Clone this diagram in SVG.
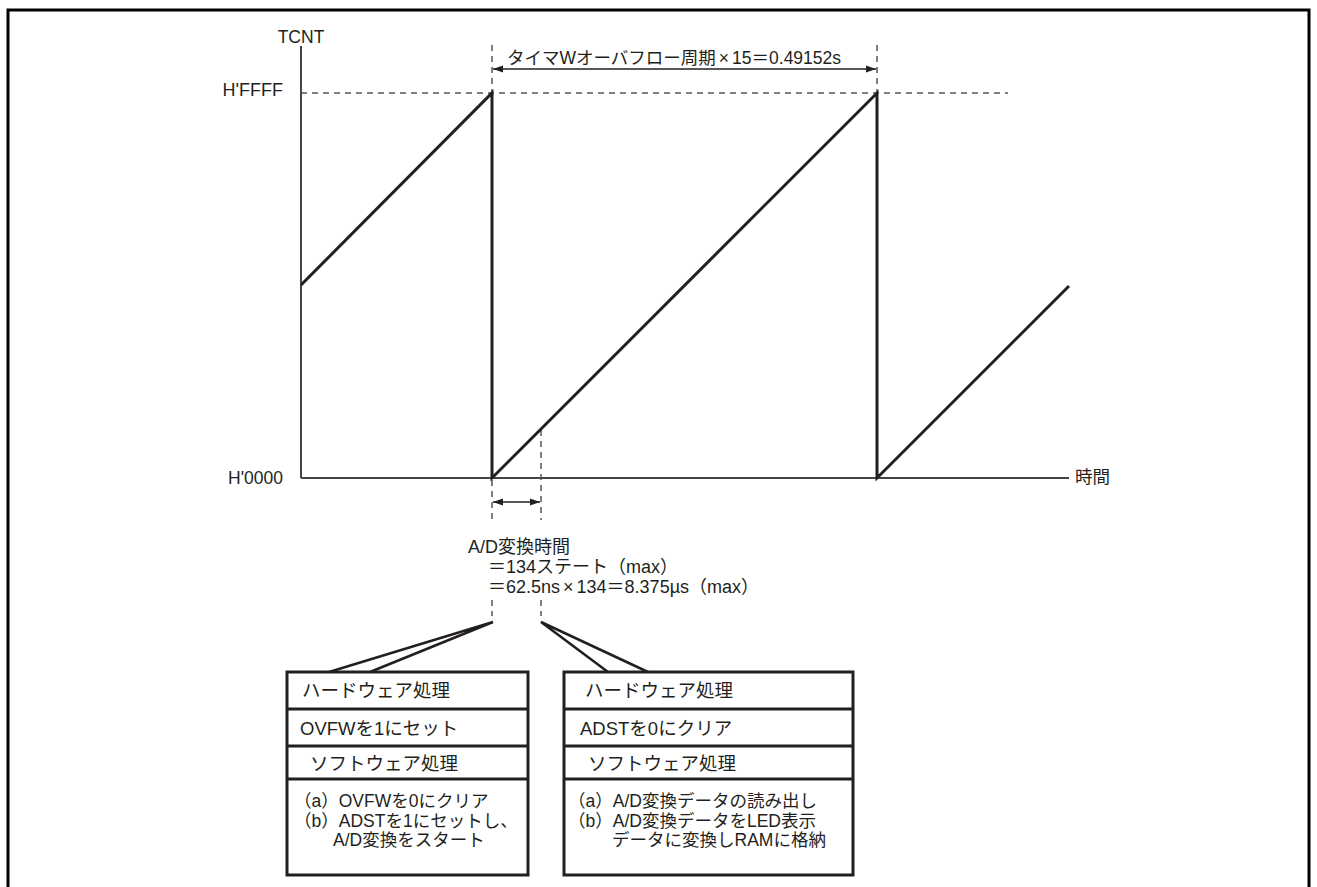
<svg xmlns="http://www.w3.org/2000/svg" width="1317" height="887" viewBox="0 0 1317 887">
<defs>
<style>
text{font-family:"Liberation Sans","Noto Sans CJK JP",sans-serif;font-size:17.5px;fill:#231f20}
.big{font-size:18.5px}
.mid{font-size:18px}
.axis{stroke:#444;stroke-width:2;fill:none}
.saw{stroke:#231f20;stroke-width:3;fill:none;stroke-linejoin:miter}
.dash{stroke:#555;stroke-width:1.5;stroke-dasharray:6 5;fill:none}
.dim{stroke:#231f20;stroke-width:1.5;fill:none}
.box{stroke:#231f20;stroke-width:3;fill:#fff}
.sep{stroke:#231f20;stroke-width:3}
.call{stroke:#231f20;stroke-width:2.5;fill:none;stroke-linejoin:miter}
</style>
<marker id="ah" viewBox="0 0 10 10" refX="10" refY="5" markerWidth="10" markerHeight="10" markerUnits="userSpaceOnUse" orient="auto-start-reverse">
<path d="M0,1.5 L10,5 L0,8.5 Z" fill="#231f20"/>
</marker>
</defs>
<rect width="1317" height="887" fill="#fff"/>
<path d="M8,890 V10 H1309 V890" fill="none" stroke="#000" stroke-width="3"/>

<g id="axes">
<line class="axis" x1="301" y1="46" x2="301" y2="478"/>
<line class="axis" x1="301" y1="478" x2="1069" y2="478"/>
<text x="301" y="43" text-anchor="middle">TCNT</text>
<text class="mid" x="283" y="96" text-anchor="end">H'FFFF</text>
<text x="283" y="484" text-anchor="end">H'0000</text>
<text x="1075" y="483">時間</text>
</g>

<g id="connectors">
<line class="dash" x1="301" y1="93" x2="1008" y2="93"/>
<line class="dash" x1="492" y1="45" x2="492" y2="93"/>
<line class="dash" x1="877" y1="45" x2="877" y2="93"/>
<line class="dim" x1="493" y1="69" x2="876" y2="69" marker-start="url(#ah)" marker-end="url(#ah)"/>
<line class="dash" x1="492" y1="480" x2="492" y2="520"/>
<line class="dash" x1="541" y1="430" x2="541" y2="520"/>
<line class="dim" x1="493" y1="502" x2="540" y2="502" marker-start="url(#ah)" marker-end="url(#ah)"/>
<line class="dash" x1="492" y1="600" x2="492" y2="616"/>
<line class="dash" x1="541" y1="600" x2="541" y2="616"/>
<path class="call" d="M329,672 L493,622 L370,672"/>
<path class="call" d="M608,672 L541,622 L648,672"/>
</g>

<g id="sawtooth">
<path class="saw" d="M301,285 L492,93 L492,478 L877,93 L877,478 L1069,286"/>
</g>

<g id="period-label">
<text x="507" y="64">タイマWオーバフロー周期<tspan dx="3">×</tspan><tspan dx="3">15＝0.49152s</tspan></text>
</g>

<g id="ad-time-label">
<text class="mid" x="468" y="553">A/D変換時間</text>
<text class="mid" x="488" y="573">＝134ステート（max）</text>
<text class="mid" x="488" y="593">＝62.5ns<tspan dx="3">×</tspan><tspan dx="3">134＝8.375µs（max）</tspan></text>
</g>

<g id="box-left">
<rect class="box" x="287" y="672" width="241" height="203"/>
<line class="sep" x1="287" y1="709" x2="528" y2="709"/>
<line class="sep" x1="287" y1="746" x2="528" y2="746"/>
<line class="sep" x1="287" y1="779" x2="528" y2="779"/>
<text class="big" x="302" y="697">ハードウェア処理</text>
<text class="big" x="300" y="735">OVFWを1にセット</text>
<text class="big" x="310" y="770">ソフトウェア処理</text>
<text x="294" y="807">（a）OVFWを0にクリア</text>
<text x="294" y="827">（b）ADSTを1にセットし、</text>
<text x="333" y="846">A/D変換をスタート</text>
</g>

<g id="box-right">
<rect class="box" x="564" y="672" width="289" height="203"/>
<line class="sep" x1="564" y1="709" x2="853" y2="709"/>
<line class="sep" x1="564" y1="746" x2="853" y2="746"/>
<line class="sep" x1="564" y1="779" x2="853" y2="779"/>
<text class="big" x="585" y="697">ハードウェア処理</text>
<text class="big" x="580" y="735">ADSTを0にクリア</text>
<text class="big" x="588" y="770">ソフトウェア処理</text>
<text x="568" y="807">（a）A/D変換データの読み出し</text>
<text x="568" y="827">（b）A/D変換データをLED表示</text>
<text x="612" y="846">データに変換しRAMに格納</text>
</g>
</svg>
